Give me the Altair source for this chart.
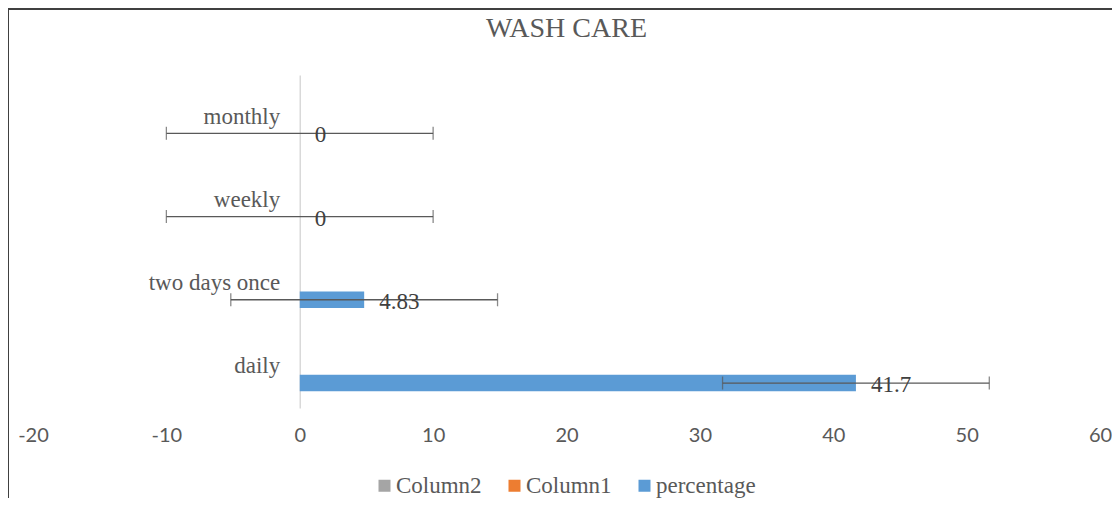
import altair as alt
import pandas as pd

# ---- data ----
categories = ["monthly", "weekly", "two days once", "daily"]   # top to bottom
percentage = [0, 0, 4.83, 41.7]
error_amount = [10, 10, 10, 10]
series_names = ["Column2", "Column1", "percentage"]
series_colors = ["#a5a5a5", "#ed7d31", "#5b9bd5"]
x_ticks = [-20, -10, 0, 10, 20, 30, 40, 50, 60]

df = pd.DataFrame({
    "category": categories,
    "value": percentage,
    "err": error_amount,
    "series": ["percentage"] * len(categories),
})
df["lo"] = df["value"] - df["err"]
df["hi"] = df["value"] + df["err"]

W, H = 1067, 333
SERIF = "Liberation Serif"
GREY = "#595959"

y_enc = alt.Y("category:N", sort=categories,
              scale=alt.Scale(paddingInner=0.4, paddingOuter=0.2),
              axis=alt.Axis(title=None, orient="left", offset=-W * 20 / 80,
                            ticks=False, domain=True, domainColor="#d9d9d9",
                            domainWidth=1.5, labelPadding=20, labelFont=SERIF,
                            labelFontSize=23, labelColor=GREY))
yoff = alt.YOffset("series:N", scale=alt.Scale(domain=series_names, paddingInner=0, paddingOuter=0))
x_scale = alt.Scale(domain=[-20, 60], nice=False, zero=False)
x_axis = alt.Axis(title=None, values=x_ticks, grid=False, domain=False, ticks=False,
                  labelFlush=False, labelFont="Lato", labelFontSize=20,
                  labelColor=GREY, labelPadding=17,
                  labelExpr="datum.value < 0 ? '-' + abs(datum.value) : '' + datum.value")

base = alt.Chart(df)

bars = base.mark_bar(color="#5b9bd5").encode(
    x=alt.X("value:Q", scale=x_scale, axis=x_axis),
    y=y_enc,
    yOffset=yoff,
    color=alt.Color("series:N",
                    scale=alt.Scale(domain=series_names, range=series_colors),
                    legend=alt.Legend(title=None, orient="none", legendX=340, legendY=399,
                                      direction="horizontal", symbolType="square",
                                      symbolSize=144, symbolStrokeWidth=0,
                                      labelFont=SERIF, labelFontSize=23, labelColor=GREY,
                                      labelOffset=0, columnPadding=21)),
)

err_rule = base.mark_rule(color="#595959", strokeWidth=1.3).encode(
    x=alt.X("lo:Q", scale=x_scale),
    x2="hi:Q",
    y=alt.Y("category:N", sort=categories),
    yOffset=yoff,
)

caps_lo = base.mark_tick(color="#595959", thickness=1.3, size=13).encode(
    x=alt.X("lo:Q", scale=x_scale), y=alt.Y("category:N", sort=categories), yOffset=yoff)
caps_hi = base.mark_tick(color="#595959", thickness=1.3, size=13).encode(
    x=alt.X("hi:Q", scale=x_scale), y=alt.Y("category:N", sort=categories), yOffset=yoff)

labels = base.mark_text(align="left", baseline="middle", dx=15, dy=2,
                        font=SERIF, fontSize=23, color="#404040").encode(
    x=alt.X("value:Q", scale=x_scale),
    y=alt.Y("category:N", sort=categories),
    yOffset=yoff,
    text=alt.Text("value:Q", format="~g"),
)

# decorative chart frame (top and left edges visible in the reference)
frame_top = alt.Chart(df).mark_rule(color="#404040", strokeWidth=2).encode(
    x=alt.value(-26), x2=alt.value(W + 20), y=alt.value(-66))
frame_left = alt.Chart(df).mark_rule(color="#404040", strokeWidth=2).encode(
    x=alt.value(-25), y=alt.value(-67), y2=alt.value(H + 100))

chart = alt.layer(bars, err_rule, caps_lo, caps_hi, labels, frame_top, frame_left).properties(
    width=W, height=H,
    title=alt.Title("WASH CARE", font=SERIF, fontSize=28, color=GREY, fontWeight="normal",
                    anchor="middle", frame="group", baseline="alphabetic", offset=0, dy=58),
    autosize=alt.AutoSizeParams(type="none"),
    padding={"left": 25, "top": 67, "right": 12, "bottom": 90},
    background="white",
).configure_view(strokeWidth=0, stroke="transparent")

chart.save("out.html", embed_options={"renderer": "svg", "actions": False})
